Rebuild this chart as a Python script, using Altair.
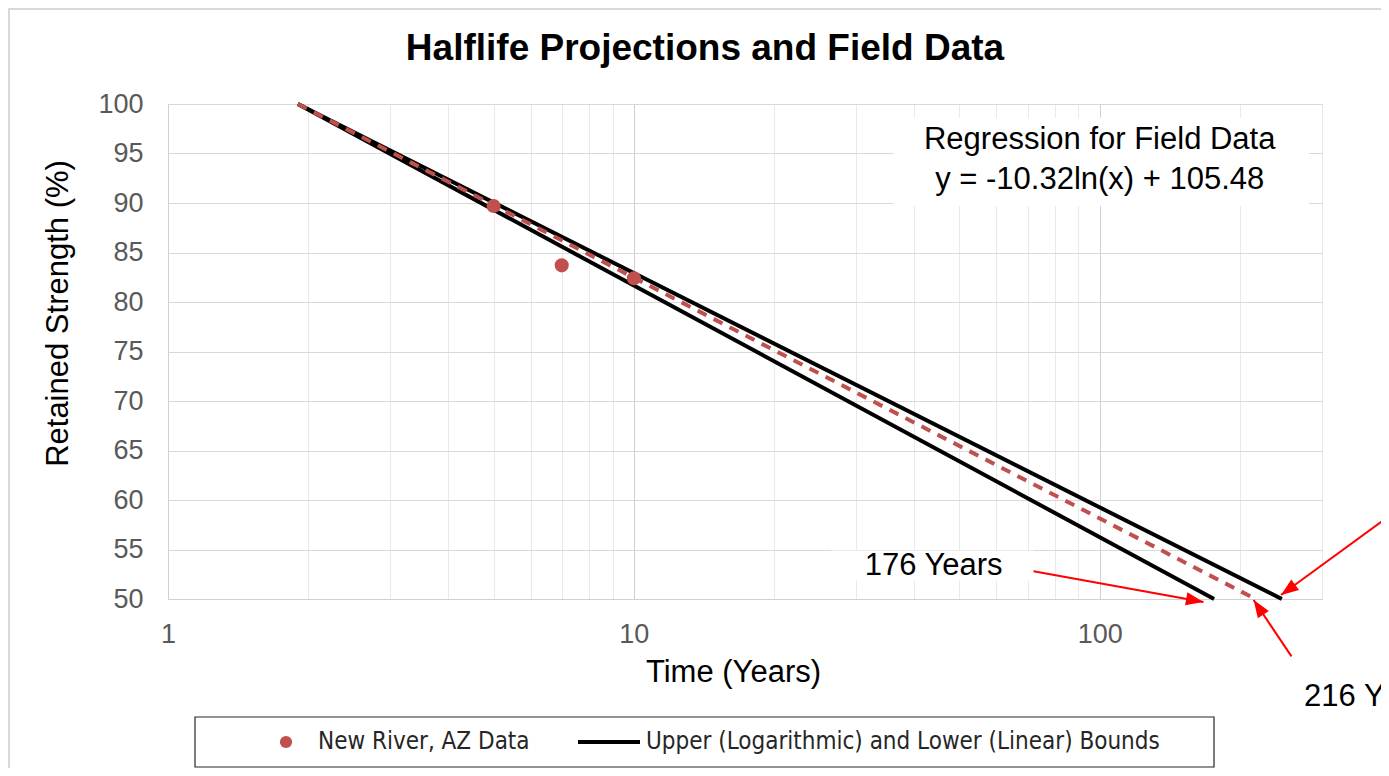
import altair as alt
import pandas as pd

FONT = "Liberation Sans"
LEG_FONT = "Liberation Sans Narrow, DejaVu Sans Condensed, Liberation Sans"

# ---- data ----
chart_title = "Halflife Projections and Field Data"

field_years = [5, 7, 10]
field_strength = [89.7, 83.7, 82.4]

bound_series = ["Lower (Linear)", "Lower (Linear)", "Upper (Logarithmic)", "Upper (Logarithmic)"]
bound_years = [1.9, 176, 1.9, 246]
bound_strength = [100, 50, 100, 50]

reg_years = [1.9, 216]
reg_strength = [100, 50]

x_grid_values = [1, 2, 3, 4, 5, 6, 7, 8, 9, 10, 20, 30, 40, 50, 60, 70, 80, 90, 100, 200, 300]
y_tick_values = [50, 55, 60, 65, 70, 75, 80, 85, 90, 95, 100]

# annotation arrows: tail -> tip (data units)
arrow_ids = ["a", "a", "b", "b", "c", "c"]
arrow_years = [72.1, 167, 258, 214, 416, 245]
arrow_strength = [52.8, 49.7, 44.2, 49.9, 58.3, 50.4]
head_years = [167, 214, 245]
head_strength = [49.7, 49.9, 50.4]
head_angle = [100.3, 326.5, 233.9]

reg_text = ["Regression for Field Data", "y = -10.32ln(x) + 105.48"]
reg_text_years = [100, 100]
reg_text_strength = [96.4, 92.3]

label_176 = "176 Years"
label_216 = "216 Years"

legend_labels = ["New River, AZ Data", "Upper (Logarithmic) and Lower (Linear) Bounds"]

# ---- tables ----
field_df = pd.DataFrame({"years": field_years, "strength": field_strength})
bounds_df = pd.DataFrame({"series": bound_series, "years": bound_years, "strength": bound_strength})
reg_df = pd.DataFrame({"years": reg_years, "strength": reg_strength})
arrow_df = pd.DataFrame({"id": arrow_ids, "years": arrow_years, "strength": arrow_strength})
head_df = pd.DataFrame({"years": head_years, "strength": head_strength, "angle": head_angle})
regtxt_df = pd.DataFrame({"t": reg_text, "years": reg_text_years, "strength": reg_text_strength})

xscale = alt.Scale(type="log", domain=[1, 300], nice=False)
yscale = alt.Scale(domain=[50, 100], nice=False, zero=False)

X = alt.X(
    "years:Q",
    scale=xscale,
    axis=alt.Axis(
        title="Time (Years)",
        values=x_grid_values,
        labelExpr="(datum.value == 1 || datum.value == 10 || datum.value == 100) ? format(datum.value, 'd') : ''",
        labelOverlap=False,
        labelBound=False,
        labelFlush=False,
        ticks=False,
        domainColor="#d0d0d0",
        gridColor={
            "condition": {"test": "datum.value == 1 || datum.value == 10 || datum.value == 100", "value": "#d0d0d0"},
            "value": "#e9e9e9",
        },
        labelColor="#595959",
        labelFont=FONT,
        labelFontSize=27,
        labelPadding=22,
        titleFont=FONT,
        titleFontSize=31,
        titleFontWeight="normal",
        titleColor="#000000",
        titleX=565,
        titleY=73,
        titleBaseline="middle",
    ),
)
Y = alt.Y(
    "strength:Q",
    scale=yscale,
    axis=alt.Axis(
        title="Retained Strength (%)",
        values=y_tick_values,
        ticks=False,
        domain=False,
        gridColor="#d9d9d9",
        labelColor="#595959",
        labelFont=FONT,
        labelFontSize=27,
        labelPadding=25,
        titleFont=FONT,
        titleFontSize=31,
        titleFontWeight="normal",
        titleColor="#000000",
        titleX=-110,
        titleY=209,
        titleBaseline="middle",
    ),
)

base_grid = alt.Chart(field_df).mark_point(opacity=0).encode(x=X, y=Y)

# outer chart border
border = alt.Chart(field_df).mark_rect(fill=None, stroke="#d9d9d9", strokeWidth=1.5, clip=False).encode(
    x=alt.value(-159), x2=alt.value(1300), y=alt.value(-95), y2=alt.value(700)
)

title = alt.Chart(pd.DataFrame({"t": [chart_title]})).mark_text(
    font=FONT, fontSize=37, fontWeight="bold", color="black", align="center", baseline="alphabetic", clip=False
).encode(x=alt.value(537), y=alt.value(-44), text="t:N")

# white boxes behind annotation text
regbox = alt.Chart(pd.DataFrame({"x1": [36.1], "x2": [281], "y1": [98.6], "y2": [89.7]})).mark_rect(
    fill="white"
).encode(x=alt.X("x1:Q", scale=xscale), x2="x2:Q", y=alt.Y("y1:Q", scale=yscale), y2="y2:Q")
box176 = alt.Chart(pd.DataFrame({"x1": [26.5], "x2": [72.1], "y1": [54.9], "y2": [51.9]})).mark_rect(
    fill="white"
).encode(x=alt.X("x1:Q", scale=xscale), x2="x2:Q", y=alt.Y("y1:Q", scale=yscale), y2="y2:Q")

bounds = alt.Chart(bounds_df).mark_line(color="black", strokeWidth=4).encode(
    x=alt.X("years:Q", scale=xscale), y=alt.Y("strength:Q", scale=yscale), detail="series:N"
)
reg = alt.Chart(reg_df).mark_line(color="#c0504d", strokeWidth=4, strokeDash=[10, 8]).encode(
    x=alt.X("years:Q", scale=xscale), y=alt.Y("strength:Q", scale=yscale)
)
points = alt.Chart(field_df).mark_point(filled=True, color="#c0504d", size=200, opacity=1).encode(
    x=alt.X("years:Q", scale=xscale), y=alt.Y("strength:Q", scale=yscale)
)

arrows = alt.Chart(arrow_df).mark_line(color="#ff0000", strokeWidth=2, clip=False).encode(
    x=alt.X("years:Q", scale=xscale), y=alt.Y("strength:Q", scale=yscale), detail="id:N"
)
heads = alt.Chart(head_df).mark_point(
    shape="M0,0L-0.6,1.6L0.6,1.6Z", filled=True, color="#ff0000", size=480, opacity=1, clip=False
).encode(
    x=alt.X("years:Q", scale=xscale), y=alt.Y("strength:Q", scale=yscale),
    angle=alt.Angle("angle:Q", scale=None),
)

regtxt = alt.Chart(regtxt_df).mark_text(font=FONT, fontSize=31, color="black", align="center", baseline="middle").encode(
    x=alt.X("years:Q", scale=xscale), y=alt.Y("strength:Q", scale=yscale), text="t:N"
)
t176 = alt.Chart(pd.DataFrame({"t": [label_176], "years": [44], "strength": [53.3]})).mark_text(
    font=FONT, fontSize=31, color="black", align="center", baseline="middle"
).encode(x=alt.X("years:Q", scale=xscale), y=alt.Y("strength:Q", scale=yscale), text="t:N")
t216 = alt.Chart(pd.DataFrame({"t": [label_216], "years": [274.6], "strength": [40.1]})).mark_text(
    font=FONT, fontSize=31, color="black", align="left", baseline="middle", clip=False
).encode(x=alt.X("years:Q", scale=xscale), y=alt.Y("strength:Q", scale=yscale), text="t:N")

# legend (drawn)
leg_df = pd.DataFrame({"label": legend_labels})
leg_box = alt.Chart(leg_df.head(1)).mark_rect(fill="white", stroke="#262626", strokeWidth=1.2, clip=False).encode(
    x=alt.value(27), x2=alt.value(1046), y=alt.value(613), y2=alt.value(663)
)
leg_dot = alt.Chart(leg_df.head(1)).mark_point(filled=True, color="#c0504d", size=150, opacity=1, clip=False).encode(
    x=alt.value(118), y=alt.value(638)
)
leg_line = alt.Chart(leg_df.head(1)).mark_rule(color="black", strokeWidth=4, clip=False).encode(
    x=alt.value(410), x2=alt.value(472), y=alt.value(638)
)
leg_t1 = alt.Chart(leg_df.iloc[[0]]).mark_text(
    font=LEG_FONT, fontSize=24, color="#262626", align="left", baseline="middle", clip=False
).encode(x=alt.value(150), y=alt.value(638), text="label:N")
leg_t2 = alt.Chart(leg_df.iloc[[1]]).mark_text(
    font=LEG_FONT, fontSize=24, color="#262626", align="left", baseline="middle", clip=False
).encode(x=alt.value(478), y=alt.value(638), text="label:N")

chart = alt.layer(
    base_grid, border, title, regbox, box176, bounds, reg, points, arrows, heads, regtxt, t176, t216,
    leg_box, leg_dot, leg_line, leg_t1, leg_t2,
).properties(
    width=1154,
    height=495,
    autosize=alt.AutoSizeParams(type="none"),
    padding={"left": 160, "top": 96, "right": 59, "bottom": 169},
).configure_view(stroke=None).configure(background="white")

chart.save("out.html", embed_options={"renderer": "svg", "actions": False})
